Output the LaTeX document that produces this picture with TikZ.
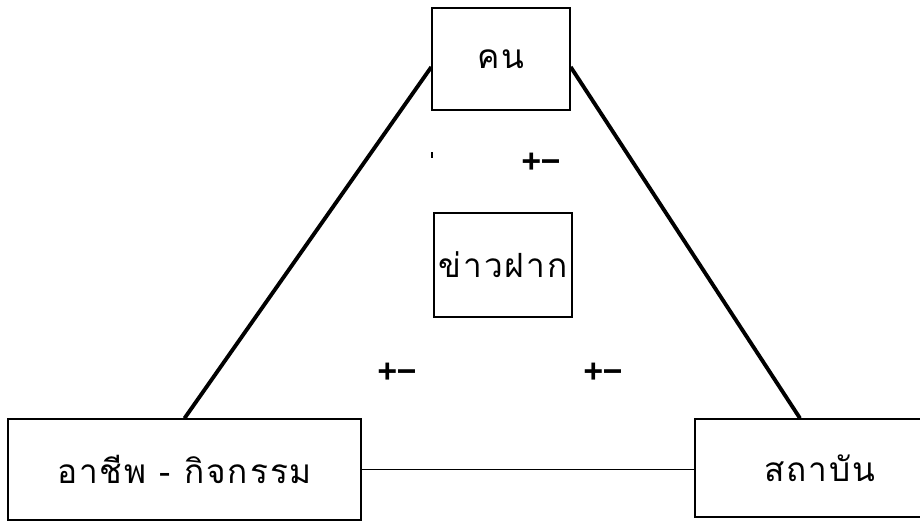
\documentclass[tikz,border=0pt]{standalone}
\usepackage{fontspec}
\newfontfamily\thaifont[Script=Thai,LetterSpace=6]{Loma}
\newfontfamily\pmfont{DejaVu Sans Mono}
\begin{document}
\begin{tikzpicture}[x=0.02cm, y=-0.02cm,
        box/.style={draw, line width=0.8pt, inner sep=0pt, font=\thaifont\fontsize{19}{22}\selectfont},
        link/.style={line width=2.2pt},
        pm/.style={font=\pmfont\bfseries\fontsize{18}{20}\selectfont}]
    \clip (0, 0) rectangle (920, 521);
    \node[box, minimum width=138*0.02cm, minimum height=102*0.02cm] (kon) at (501, 59) {คน};
    \node[box, minimum width=138*0.02cm, minimum height=104*0.02cm] (news) at (503, 265) {ข่าวฝาก};
    \node[box, minimum width=353*0.02cm, minimum height=101*0.02cm] (career) at (184.5, 469.5) {อาชีพ - กิจกรรม};
    % right box runs off the page
    \node[box, minimum width=250*0.02cm, minimum height=98*0.02cm] (inst) at (820, 468) {สถาบัน\hspace{0.48cm}};
    \draw[link] ([yshift=-0.16cm]kon.west) -- (career.north);
    \draw[link] ([yshift=-0.16cm]kon.east) -- ([xshift=-0.4cm]inst.north);
    \draw[line width=0.8pt] (career.east) -- (career.east -| inst.west);
    \node[pm] (pmtop) at (541, 162) {+−};
    \node[pm] (pmleft) at (397, 372) {+−};
    \node[pm] (pmright) at (603, 372) {+−};
    \draw[line width=0.6pt] (432, 152) -- (432, 158);
\end{tikzpicture}
\end{document}
